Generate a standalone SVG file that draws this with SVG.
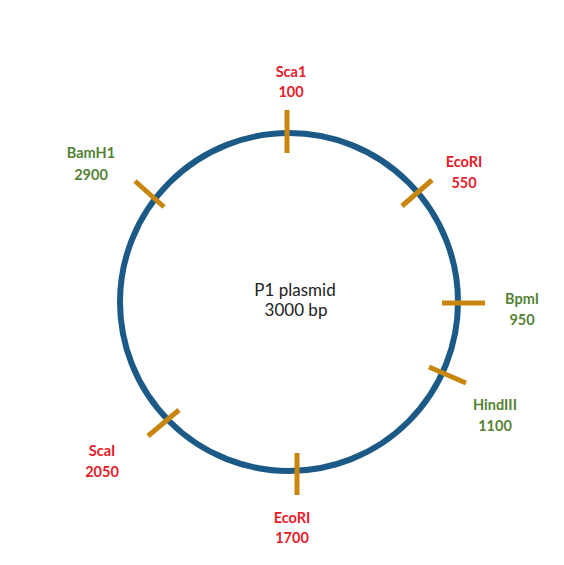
<svg xmlns="http://www.w3.org/2000/svg" width="564" height="565" viewBox="0 0 564 565">
<style>
.bb{fill:#ffffff}
.ring{fill:none;stroke:#1B5A86;stroke-width:6}
.tick{stroke:#C8860F;stroke-width:5}
.lbl{font-family:Lato,"Open Sans","Liberation Sans",sans-serif;font-weight:bold;font-size:14.5px;text-anchor:middle}
.red{fill:#E6202A}
.grn{fill:#548235}
.ctr{font-family:Lato,"Open Sans","Liberation Sans",sans-serif;font-size:17px;fill:#222222;text-anchor:middle}
</style>
<rect class="bb" x="0" y="0" width="564" height="565"/>
<g id="plasmid">
<circle class="ring" cx="289" cy="302" r="169"/>
<text class="ctr" x="295" y="296">P1 plasmid</text>
<text class="ctr" x="296" y="316">3000 bp</text>
</g>
<g id="connectors">
<line class="tick" x1="287" y1="110" x2="287" y2="153"/>
<line class="tick" x1="402" y1="206" x2="432" y2="180"/>
<line class="tick" x1="442" y1="303" x2="485" y2="303"/>
<line class="tick" x1="429" y1="367" x2="466" y2="383"/>
<line class="tick" x1="297" y1="453" x2="297" y2="495"/>
<line class="tick" x1="148" y1="436" x2="179" y2="410"/>
<line class="tick" x1="135" y1="181" x2="164" y2="207"/>
</g>
<g id="site-sca1-100"><text class="lbl red" x="291" y="77">Sca1</text><text class="lbl red" x="291" y="97">100</text></g>
<g id="site-ecori-550"><text class="lbl red" x="464" y="167">EcoRI</text><text class="lbl red" x="464" y="188">550</text></g>
<g id="site-bpml-950"><text class="lbl grn" x="522" y="304">BpmI</text><text class="lbl grn" x="522" y="325">950</text></g>
<g id="site-hindiii-1100"><text class="lbl grn" x="495" y="410">HindIII</text><text class="lbl grn" x="495" y="431">1100</text></g>
<g id="site-ecori-1700"><text class="lbl red" x="292" y="523">EcoRI</text><text class="lbl red" x="292" y="543">1700</text></g>
<g id="site-scai-2050"><text class="lbl red" x="102" y="456">ScaI</text><text class="lbl red" x="102" y="477">2050</text></g>
<g id="site-bamh1-2900"><text class="lbl grn" x="91" y="158">BamH1</text><text class="lbl grn" x="91" y="180">2900</text></g>
</svg>
